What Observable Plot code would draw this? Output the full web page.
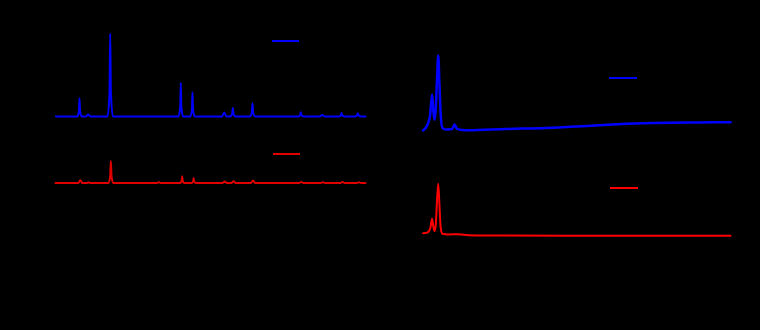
<!DOCTYPE html>
<html>
<head>
<meta charset="utf-8">
<script src="https://cdn.jsdelivr.net/npm/d3@7"></script>
<script src="https://cdn.jsdelivr.net/npm/@observablehq/plot@0.6"></script>
<style>
  html, body { margin: 0; padding: 0; background: #000; }
  #wrap { position: relative; width: 760px; height: 330px; background: #000; font-family: "Liberation Sans", Arial, sans-serif; }
  #wrap > .panel { position: absolute; top: 0; }
  .swatch { position: absolute; height: 2px; }
  .lab { position: absolute; font-size: 12px; color: #000; white-space: nowrap; }
</style>
</head>
<body>
<div id="wrap"></div>
<script>
// ---- Data ----
const seriesNames = ["Calcined", "As-prepared"];
const seriesColors = ["#0000ff", "#e00000"];
const seriesColorsRight = ["#0000ff", "#ff0000"];

// Wide-angle pattern, 2θ (deg) vs relative intensity (a.u.)
const wideBlue = [
  [10.1,0],[14.92,0],[15.30,5.5],[15.42,18.3],[15.54,5.5],[15.92,0],
  [16.88,0],[17.38,2],[17.88,0],
  [21.75,0],[22.2,25],[22.35,83],[22.5,25],[22.95,0],
  [37.79,0],[38.17,10],[38.29,33.6],[38.41,10],[38.79,0],
  [40.43,0],[40.81,7.3],[40.93,24.3],[41.05,7.3],[41.43,0],
  [47.59,0],[48.09,4],[48.59,0],
  [49.44,0],[49.89,2.6],[50.04,8.6],[50.19,2.6],[50.64,0],
  [53.88,0],[54.33,3.9],[54.48,13],[54.63,3.9],[55.08,0],
  [64.79,0],[65.24,1.3],[65.39,4.3],[65.54,1.3],[65.99,0],
  [69.62,0],[70.22,1.6],[70.82,0],
  [73.98,0],[74.43,1.1],[74.58,3.6],[74.73,1.1],[75.18,0],
  [77.56,0],[78.06,1],[78.26,3.3],[78.46,1],[78.96,0],
  [80,0]
];
const wideRed = [
  [10.0,0],[15.1,0],[15.6,2.7],[16.1,0],
  [17.0,0],[17.5,0.5],[18.0,0],
  [21.9,0],[22.35,6.5],[22.5,22],[22.65,6.5],[23.1,0],
  [32.8,0],[33.3,0.8],[33.8,0],
  [38.1,0],[38.48,2],[38.6,6.7],[38.72,2],[39.1,0],
  [40.7,0],[41.08,1.5],[41.2,5],[41.32,1.5],[41.7,0],
  [47.7,0],[48.2,1.4],[48.7,0],
  [49.7,0],[50.2,1.7],[50.7,0],
  [54.1,0],[54.6,2.4],[55.1,0],
  [65.0,0],[65.5,1],[66.0,0],
  [69.9,0],[70.4,0.7],[70.9,0],
  [74.3,0],[74.8,1],[75.3,0],
  [78.0,0],[78.5,0.7],[79.0,0],
  [80,0]
];
const wideOffsets = [144, 77.5];

// Small-angle pattern, 2θ (deg) vs intensity (a.u., already stacked)
const smallBlue = [
  [0.49,130],[0.6,136],[0.66,145],[0.71,166],[0.74,150],[0.77,140.7],[0.80,152],
  [0.83,182],[0.86,205],[0.89,176],[0.92,146],[0.96,132.7],[1.05,131],[1.2,131.5],
  [1.26,136],[1.32,131.7],[1.45,130.5],[1.6,130.3],[2.5,131.5],[3.5,132.5],
  [4.25,134],[5.0,135.8],[5.87,137.3],[6.5,137.8],[7.2,138],[8.0,138.3]
];
const smallRed = [
  [0.49,27.3],[0.6,28],[0.67,33],[0.71,41.7],[0.74,34],[0.77,29.3],[0.80,36],
  [0.83,60],[0.86,76.7],[0.89,55],[0.92,33],[0.96,26.7],[1.1,26],[1.35,26.3],
  [1.6,25.3],[2.0,25],[4.0,24.8],[8.0,24.7]
];

const wrap = document.getElementById("wrap");
const common = {
  width: 380, height: 330, marginTop: 30, marginBottom: 70,
  style: { background: "#000", color: "#000", fontSize: "12px", fontFamily: "Liberation Sans, Arial, sans-serif" },
  y: { domain: [0, 230], axis: "left", ticks: [], label: "Intensity (a.u.)", labelAnchor: "center", labelArrow: "none" }
};

const left = Plot.plot({
  ...common,
  marginLeft: 55, marginRight: 15,
  x: { domain: [10, 80], ticks: [10, 20, 30, 40, 50, 60, 70, 80], label: "2θ (degree)", labelAnchor: "center", labelArrow: "none" },
  marks: [
    Plot.frame({ stroke: "#000" }),
    Plot.line(wideBlue, { x: d => d[0], y: d => d[1] + wideOffsets[0], stroke: seriesColors[0], strokeWidth: 2, curve: "monotone-x" }),
    Plot.line(wideRed, { x: d => d[0], y: d => d[1] + wideOffsets[1], stroke: seriesColors[1], strokeWidth: 2, curve: "monotone-x" }),
    Plot.text(["(a)"], { frameAnchor: "top-left", dx: 8, dy: 8, fill: "#000" })
  ]
});
left.classList.add("panel");
left.style.left = "0px";
wrap.appendChild(left);

const right = Plot.plot({
  ...common,
  marginLeft: 43, marginRight: 30,
  x: { domain: [0.5, 8], ticks: [1, 2, 3, 4, 5, 6, 7, 8], label: "2θ (degree)", labelAnchor: "center", labelArrow: "none" },
  marks: [
    Plot.frame({ stroke: "#000" }),
    Plot.line(smallBlue, { x: d => d[0], y: d => d[1], stroke: seriesColorsRight[0], strokeWidth: 2.5, curve: "monotone-x" }),
    Plot.line(smallRed, { x: d => d[0], y: d => d[1], stroke: seriesColorsRight[1], strokeWidth: 2, curve: "monotone-x" }),
    Plot.text(["(b)"], { frameAnchor: "top-left", dx: 8, dy: 8, fill: "#000" })
  ]
});
right.classList.add("panel");
right.style.left = "380px";
wrap.appendChild(right);

// Legends (swatch + label) per panel
const legendSpots = [
  { left: 272, top: 40, w: 27, c: seriesColors[0], t: seriesNames[0] },
  { left: 273, top: 153, w: 27, c: seriesColors[1], t: seriesNames[1] },
  { left: 609, top: 77, w: 28, c: seriesColorsRight[0], t: seriesNames[0] },
  { left: 610, top: 187, w: 28, c: seriesColorsRight[1], t: seriesNames[1] }
];
legendSpots.forEach(s => {
  const sw = document.createElement("div");
  sw.className = "swatch";
  sw.style.left = s.left + "px"; sw.style.top = s.top + "px"; sw.style.width = s.w + "px"; sw.style.background = s.c;
  wrap.appendChild(sw);
  const lb = document.createElement("div");
  lb.className = "lab";
  lb.textContent = s.t;
  lb.style.left = (s.left + s.w + 6) + "px"; lb.style.top = (s.top - 7) + "px";
  wrap.appendChild(lb);
});
</script>
</body>
</html>
